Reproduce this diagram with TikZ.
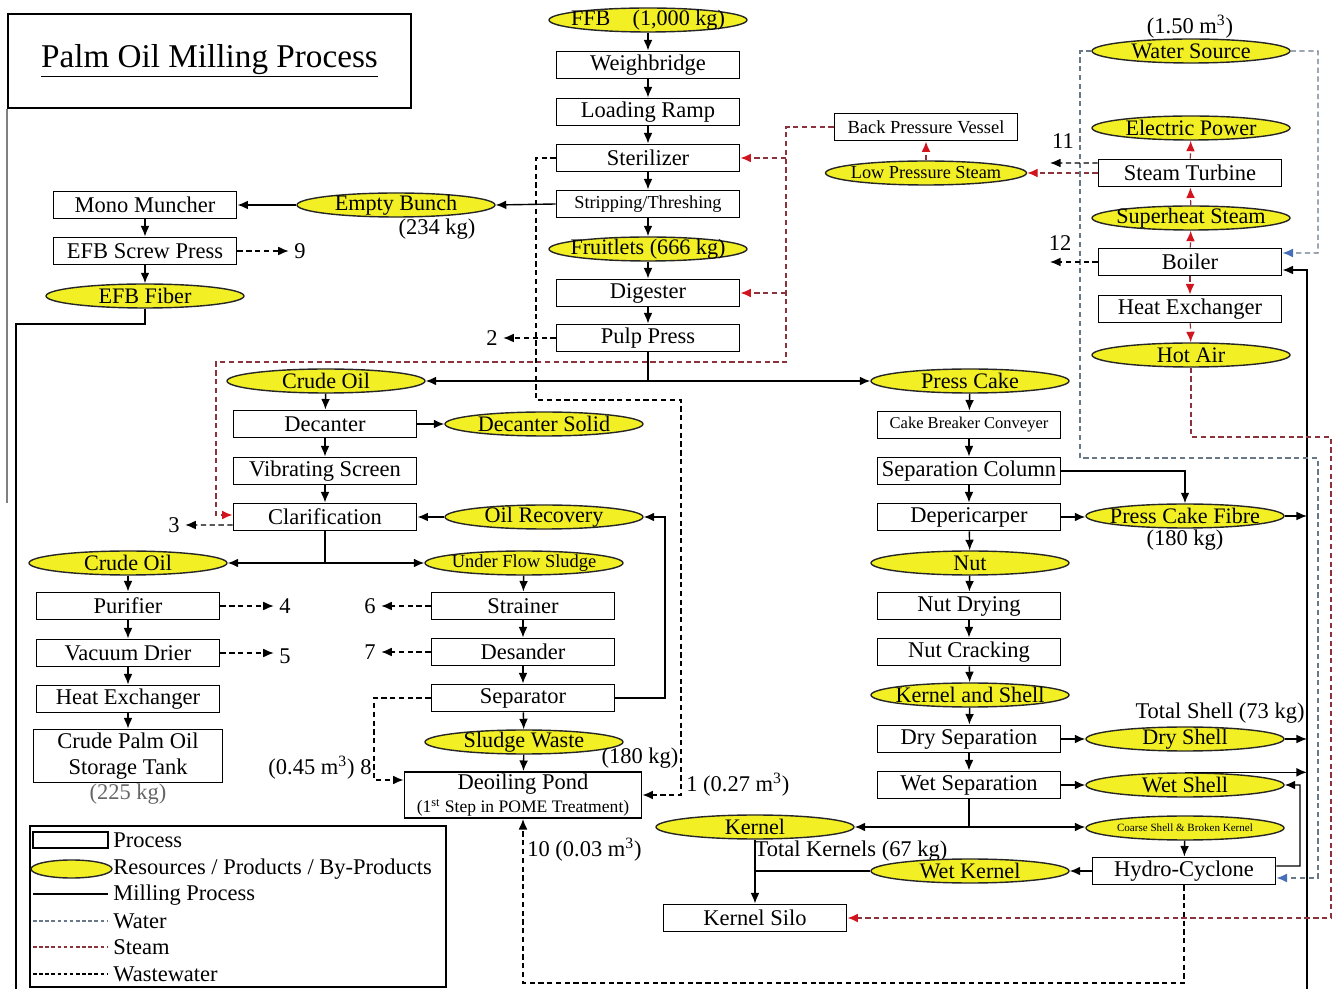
\documentclass[tikz,border=0pt]{standalone}
\usepackage{fontspec}
\setmainfont{Liberation Serif}
\usetikzlibrary{arrows.meta,shapes.geometric}
\definecolor{yel}{RGB}{242,240,36}
\definecolor{steamc}{RGB}{140,50,60}
\definecolor{steamtip}{RGB}{210,20,30}
\definecolor{waterc}{RGB}{105,120,135}
\definecolor{watertip}{RGB}{70,110,185}
\newcommand\myfs[1]{\fontsize{#1}{#1}\selectfont}
\begin{document}
\begin{tikzpicture}[x=0.02cm,y=-0.02cm,
 box/.style={draw, line width=1.1pt, minimum width=3.66cm, minimum height=0.54cm, inner sep=0pt, font=\myfs{12.8}},
 res/.style={ellipse, draw=black!85, line width=0.8pt, fill=yel, minimum width=3.96cm, minimum height=0.48cm, inner xsep=-12pt, inner ysep=-3pt, font=\myfs{12.6}},
 lbl/.style={inner sep=0pt, font=\myfs{12.8}},
 flow/.style={line width=0.8pt, -{Latex[length=6pt,width=5pt]}},
 plainline/.style={line width=0.8pt},
 ww/.style={line width=0.7pt, dash pattern=on 3pt off 2pt},
 wwa/.style={ww, -{Latex[length=6pt,width=5pt]}},
 wwl/.style={wwa, shorten >=3pt},
 steamline/.style={line width=0.7pt, draw=steamc, dash pattern=on 3pt off 2pt},
 steama/.style={steamline, -{Latex[length=6pt,width=5pt,color=steamtip]}},
 waterline/.style={line width=0.7pt, draw=waterc, dash pattern=on 3pt off 2pt},
 watera/.style={waterline, -{Latex[length=6pt,width=5pt,color=watertip]}},
]
\useasboundingbox (0,0) rectangle (1333,989);

% title
\node[draw, line width=1pt, minimum width=8.06cm, minimum height=1.88cm, inner sep=0pt] (title) at (209.5,61) {\myfs{18.9}\underline{Palm Oil Milling Process}};
\draw[gray, line width=0.8pt] (title.south west) -- ++(0,394) coordinate (tl);

% central column
\node[res] (ffb) at (648,20) {FFB\hspace{1em}(1,000 kg)};
\node[box] (wb) at (648,65) {Weighbridge};
\node[box] (lr) at (648,112) {Loading Ramp};
\node[box] (st) at (648,158) {Sterilizer};
\node[box, font=\myfs{10.4}] (sth) at (648,204) {Stripping/Threshing};
\node[res] (fr) at (648,249) {Fruitlets (666 kg)};
\node[box] (dg) at (648,293) {Digester};
\node[box] (pp) at (648,338) {Pulp Press};
\node[lbl] (n2) at (492,338) {2};

% empty bunch branch
\node[res] (eb) at (396,205) {Empty Bunch};
\node[lbl] (eblbl) at (437,229) {(234 kg)};
\node[box] (mm) at (145,205) {Mono Muncher};
\node[box] (efbsp) at (145,251) {EFB Screw Press};
\node[lbl] (n9) at (300,251) {9};
\node[res] (efbf) at (145,296) {EFB Fiber};

% second column
\node[res] (co1) at (326,381) {Crude Oil};
\node[box] (dec) at (325,424) {Decanter};
\node[res] (ds) at (544,424) {Decanter Solid};
\node[box] (vs) at (325,471) {Vibrating Screen};
\node[box] (cl) at (325,517) {Clarification};
\node[res] (or) at (544,517) {Oil Recovery};
\node[lbl] (n3) at (174,525) {3};

% lower left
\node[res] (co2) at (128,563) {Crude Oil};
\node[box] (pur) at (128,606) {Purifier};
\node[lbl] (n4) at (285,606) {4};
\node[box] (vd) at (128,653) {Vacuum Drier};
\node[lbl] (n5) at (285,656) {5};
\node[box] (hx1) at (128,699) {Heat Exchanger};
\node[box, minimum width=3.78cm, minimum height=1.06cm, align=center, font=\fontsize{12.8}{14.7}\selectfont] (cpo) at (128,756) {Crude Palm Oil\\Storage Tank};
\node[lbl, text=black!60] (cpolbl) at (128,794) {(225 kg)};

% middle lower
\node[res, font=\myfs{10.5}] (ufs) at (524,563) {Under Flow Sludge};
\node[box] (str) at (523,606) {Strainer};
\node[lbl] (n6) at (370,606) {6};
\node[box] (des) at (523,652) {Desander};
\node[lbl] (n7) at (370,652) {7};
\node[box] (sep) at (523,698) {Separator};
\node[res] (sw) at (524,742) {Sludge Waste};
\node[lbl] (swlbl) at (640,758) {(180 kg)};
\node[box, minimum width=4.74cm, minimum height=0.92cm, align=center, font=\fontsize{12.8}{13.5}\selectfont] (dp) at (523,795) {Deoiling Pond\\{\myfs{10}(1\textsuperscript{st} Step in POME Treatment)}};
\node[lbl] (n8) at (320,768) {(0.45 m\textsuperscript{3}) 8};
\node[lbl, anchor=west] (n1) at (686,785) {1 (0.27 m\textsuperscript{3})};
\node[lbl, anchor=west] (n10) at (527,850) {10 (0.03 m\textsuperscript{3})};

% right column
\node[res] (pc) at (970,381) {Press Cake};
\node[box, font=\myfs{9.4}] (cbc) at (969,425) {Cake Breaker Conveyer};
\node[box] (sc) at (969,471) {Separation Column};
\node[box] (dpc) at (969,517) {Depericarper};
\node[res] (pcf) at (1185,516) {Press Cake Fibre};
\node[lbl] (pcflbl) at (1185,540) {(180 kg)};
\node[res] (nut) at (970,563) {Nut};
\node[box] (nd) at (969,606) {Nut Drying};
\node[box] (nc) at (969,652) {Nut Cracking};
\node[res] (ks) at (970,695) {Kernel and Shell};
\node[box] (dsp) at (969,739) {Dry Separation};
\node[res] (dsh) at (1185,739) {Dry Shell};
\node[lbl] (tslbl) at (1220,713) {Total Shell (73 kg)};
\node[box] (wsp) at (969,785) {Wet Separation};
\node[res] (wsh) at (1185,785) {Wet Shell};
\node[res, font=\myfs{6.3}] (csbk) at (1185,828) {Coarse Shell \& Broken Kernel};
\node[res] (ker) at (755,827) {Kernel};
\node[lbl] (tklbl) at (851,851) {Total Kernels (67 kg)};
\node[box] (hc) at (1184,871) {Hydro-Cyclone};
\node[res] (wk) at (970,871) {Wet Kernel};
\node[box] (ksilo) at (755,918) {Kernel Silo};

% upper right
\node[lbl] (wslbl) at (1190,27) {(1.50 m\textsuperscript{3})};
\node[res] (wsrc) at (1191,51) {Water Source};
\node[res] (ep) at (1191,128) {Electric Power};
\node[box] (stt) at (1190,173) {Steam Turbine};
\node[res] (ss) at (1191,218) {Superheat Steam};
\node[box] (boil) at (1190,262) {Boiler};
\node[box] (hx2) at (1190,309) {Heat Exchanger};
\node[res] (ha) at (1191,355) {Hot Air};
\node[res, font=\myfs{10.4}, minimum width=4.02cm] (lps) at (926,173) {Low Pressure Steam};
\node[box, font=\myfs{10.5}] (bpv) at (926,127) {Back Pressure Vessel};
\node[lbl] (n11) at (1063,141) {11};
\node[lbl] (n12) at (1060,243) {12};
\coordinate (c11) at (1050,163);
\coordinate (c12) at (1050,262);
\coordinate (trk) at (1307,989);
\coordinate (lft) at (16,989);

% solid flows
\draw[flow] (ffb) -- (wb);
\draw[flow] (wb) -- (lr);
\draw[flow] (lr) -- (st);
\draw[flow] (st) -- (sth);
\draw[flow] (sth) -- (fr);
\draw[flow] (fr) -- (dg);
\draw[flow] (dg) -- (pp);
\draw[flow] (sth.west) -- (eb.east);
\draw[flow] (eb.west) -- (mm.east);
\draw[flow] (mm) -- (efbsp);
\draw[flow] (efbsp) -- (efbf);
\draw[plainline] (efbf.south) |- (16,324) -- (lft);
\coordinate (j1) at (648,381);
\draw[plainline] (pp.south) -- (j1);
\draw[flow] (j1) -- (co1.east);
\draw[flow] (j1) -- (pc.west);
\draw[flow] (co1) -- (dec);
\draw[flow] (dec) -- (vs);
\draw[flow] (vs) -- (cl);
\draw[flow] (dec.east) -- (ds.west);
\draw[flow] (or.west) -- (cl.east);
\coordinate (j2) at (325,563);
\draw[plainline] (cl.south) -- (j2);
\draw[flow] (j2) -- (co2.east);
\draw[flow] (j2) -- (ufs.west);
\draw[flow] (co2) -- (pur);
\draw[flow] (pur) -- (vd);
\draw[flow] (vd) -- (hx1);
\draw[flow] (hx1) -- (cpo);
\draw[flow] (ufs) -- (str);
\draw[flow] (str) -- (des);
\draw[flow] (des) -- (sep);
\draw[flow] (sep) -- (sw);
\draw[flow] (sw) -- (dp);
\draw[flow] (sep.east) -- (665,698) |- (or.east);
\draw[flow] (pc) -- (cbc);
\draw[flow] (cbc) -- (sc);
\draw[flow] (sc) -- (dpc);
\draw[flow] (dpc) -- (nut);
\draw[flow] (nut) -- (nd);
\draw[flow] (nd) -- (nc);
\draw[flow] (nc) -- (ks);
\draw[flow] (ks) -- (dsp);
\draw[flow] (dsp) -- (wsp);
\draw[flow] (sc.east) -| (pcf.north);
\draw[flow] (dpc.east) -- (pcf.west |- dpc.east);
\draw[flow] (pcf.east) -- (pcf.east -| trk);
\draw[flow] (dsp.east) -- (dsh.west);
\draw[flow] (dsh.east) -- (dsh.east -| trk);
\draw[flow] (wsp.east) -- (wsh.west);
\draw[flow] (wsh.north) -- (wsh.north -| trk);
\coordinate (j3) at (969,827);
\draw[plainline] (wsp.south) -- (j3);
\draw[flow] (j3) -- (ker.east);
\draw[flow] (j3) -- (csbk.west |- j3);
\draw[flow] (csbk) -- (hc);
\draw[flow] (hc.west) -- (wk.east);
\draw[flow] ([yshift=0.1cm]hc.east) -- (1300,866) |- (wsh.east);
\draw[plainline] (wk.west) -- (ker.south |- wk.west);
\draw[flow] (ker) -- (ksilo);
\draw[flow] (trk) |- ([yshift=-0.16cm]boil.east);

% steam
\draw[steama] (bpv.west) -- (786,127) -- (786,362) -- (216,362) |- ([yshift=0.04cm]cl.west);
\draw[steama] (786,158) -- (st.east);
\draw[steama] (786,293) -- (dg.east);
\draw[steama] (boil) -- (ss);
\draw[steama] (ss) -- (stt);
\draw[steama] (stt) -- (ep);
\draw[steama] (boil) -- (hx2);
\draw[steama] (hx2) -- (ha);
\draw[steama] (stt.west) -- (lps.east);
\draw[steama] (lps) -- (bpv);
\draw[steama] (ha.south) -- (1191,437) -- (1331,437) |- (ksilo.east);

% water
\draw[watera] (wsrc.east) -| (1318,253) -- ([yshift=0.18cm]boil.east);
\draw[watera] (wsrc.west) -- (1080,51) -- (1080,458) -- (1318,458) |- ([yshift=-0.14cm]hc.east);

% wastewater
\draw[wwa] (st.west) -- (536,158) -- (536,400) -- (681,400) |- (dp.east);
\draw[wwl] (pp.west) -- (n2.east);
\draw[wwl] ([yshift=-0.16cm]cl.west) -- (n3.east);
\draw[wwl] (pur.east) -- (n4.west);
\draw[wwl] (vd.east) -- (n5.west |- vd.east);
\draw[wwl] (str.west) -- (n6.east);
\draw[wwl] (des.west) -- (n7.east);
\draw[wwl] (efbsp.east) -- (n9.west);
\draw[wwa] (sep.west) -- (374,698) |- ([yshift=0.3cm]dp.west);
\draw[wwa] (hc.south) -- (1184,983) -| (dp.south);
\draw[wwa] ([yshift=0.2cm]stt.west) -- (c11);
\draw[wwa] (boil.west) -- (c12);

% legend
\node[draw, line width=1pt, minimum width=8.32cm, minimum height=3.22cm, inner sep=0pt] (leg) at (238,906.5) {};
\node[draw, line width=0.8pt, minimum width=1.5cm, minimum height=0.32cm, inner sep=0pt] (lgp) at (70.5,840) {};
\node[lbl, anchor=west] (lgpt) at (113,840) {Process};
\node[res, minimum width=1.62cm, minimum height=0.36cm] (lgr) at (71.5,869) {};
\node[lbl, anchor=west] (lgrt) at (113,869) {Resources / Products / By-Products};
\coordinate (lm1) at (33,894); \coordinate (lm2) at (108,894);
\draw[plainline] (lm1) -- (lm2);
\node[lbl, anchor=west] (lgmt) at (113,895) {Milling Process};
\coordinate (lw1) at (33,921); \coordinate (lw2) at (108,921);
\draw[waterline, dash pattern=on 2pt off 1.5pt] (lw1) -- (lw2);
\node[lbl, anchor=west] (lgwt) at (113,921) {Water};
\coordinate (ls1) at (33,947); \coordinate (ls2) at (108,947);
\draw[steamline, dash pattern=on 2pt off 1.5pt] (ls1) -- (ls2);
\node[lbl, anchor=west] (lgst) at (113,947) {Steam};
\coordinate (lx1) at (33,974); \coordinate (lx2) at (108,974);
\draw[ww, dash pattern=on 2pt off 1.5pt] (lx1) -- (lx2);
\node[lbl, anchor=west] (lgxt) at (113,974) {Wastewater};
\end{tikzpicture}
\end{document}
